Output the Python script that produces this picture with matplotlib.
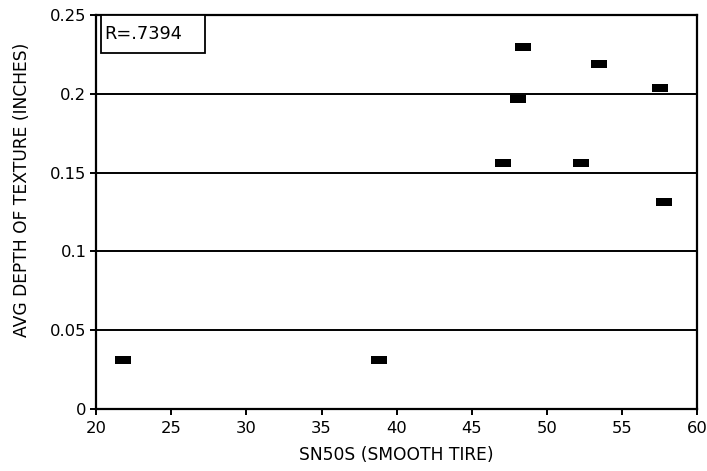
import numpy as np
import matplotlib.pyplot as plt
from matplotlib.patches import Rectangle

plt.rcParams['font.family'] = ['DejaVu Sans']

# data
sn50s = [21.8, 38.8, 47.1, 48.1, 48.4, 52.3, 53.5, 57.5, 57.8]
depth = [0.031, 0.031, 0.156, 0.197, 0.230, 0.156, 0.219, 0.204, 0.131]
r_text = "R=.7394"
xticks = [20, 25, 30, 35, 40, 45, 50, 55, 60]
yticks = [0, 0.05, 0.1, 0.15, 0.2, 0.25]
ytick_labels = ["0", "0.05", "0.1", "0.15", "0.2", "0.25"]

fig = plt.figure(figsize=(7.07, 4.71), dpi=100)
ax = fig.add_axes([0.136, 0.132, 0.850, 0.836])

# flat rectangle marker
rect = [(-1, -0.55), (1, -0.55), (1, 0.55), (-1, 0.55), (-1, -0.55)]
ax.plot(sn50s, depth, linestyle='none', marker=rect, markersize=11,
        color='black', markeredgewidth=0)

ax.set_xlim(20, 60)
ax.set_ylim(0, 0.25)
ax.set_xticks(xticks)
ax.set_yticks(yticks)
ax.set_yticklabels(ytick_labels)
for y in yticks[1:-1]:
    ax.axhline(y, color='black', linewidth=1.4, zorder=1)

for s in ax.spines.values():
    s.set_linewidth(1.6)
ax.tick_params(direction='out', length=4, width=1.4, labelsize=11.8)
ax.tick_params(axis='x', pad=5)
ax.tick_params(axis='y', pad=3)

ax.set_xlabel("SN50S (SMOOTH TIRE)", fontsize=12.3)
ax.xaxis.set_label_coords(0.5, -0.094)
ax.set_ylabel("AVG DEPTH OF TEXTURE (INCHES)", fontsize=12.3)
ax.yaxis.set_label_coords(-0.108, 0.556)

# correlation box
ax.add_patch(Rectangle((0.008, 0.904), 0.173, 0.096, transform=ax.transAxes,
                       facecolor='white', edgecolor='black', linewidth=1.3,
                       zorder=3))
ax.text(0.014, 0.952, r_text, transform=ax.transAxes, fontsize=12.8,
        va='center', ha='left', zorder=4)

fig.savefig("out.png", dpi=100)
